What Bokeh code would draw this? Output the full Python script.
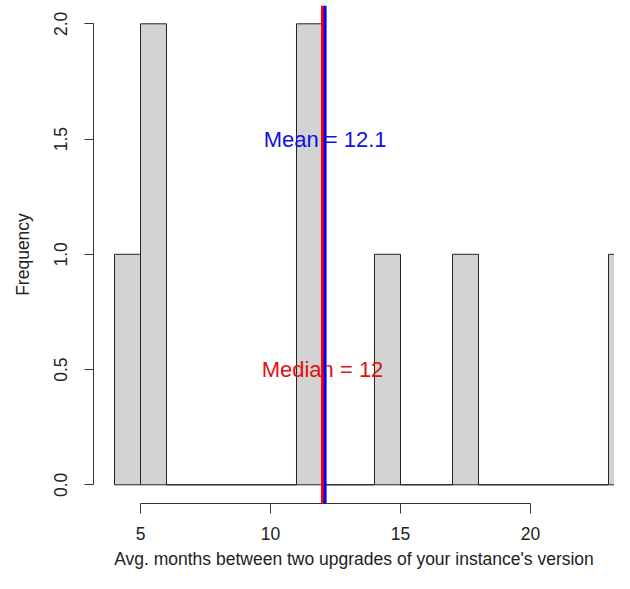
from bokeh.plotting import figure
from bokeh.models import Span, Range1d, FixedTicker
from bokeh.core.properties import value
from bokeh.embed import file_html
from bokeh.resources import INLINE

# ---- data ----
breaks = [4, 5, 6, 7, 8, 9, 10, 11, 12, 13, 14, 15, 16, 17, 18, 19, 20, 21, 22, 23, 24]
counts = [1, 2, 0, 0, 0, 0, 0, 2, 0, 0, 1, 0, 0, 1, 0, 0, 0, 0, 0, 1]
mean_val = 12.1
median_val = 12
mean_label = "Mean = 12.1"
median_label = "Median = 12"
mean_label_y = 1.5
median_label_y = 0.5
x_ticks = [5, 10, 15, 20]
y_ticks = [0, 0.5, 1.0, 1.5, 2.0]
x_title = "Avg. months between two upgrades of your instance's version"
y_title = "Frequency"

FONT = "Liberation Sans"
FS = "17.5px"

p = figure(width=614, height=573, output_backend="svg", toolbar_location=None,
           x_range=Range1d(3.1923, 23.2308), y_range=Range1d(-0.0811, 2.0794),
           min_border_left=93, min_border_right=0, min_border_top=5,
           min_border_bottom=70)
p.outline_line_color = None
p.xgrid.visible = False
p.ygrid.visible = False
p.background_fill_color = "white"
p.border_fill_color = "white"

p.quad(left=breaks[:-1], right=breaks[1:], bottom=0, top=counts,
       fill_color="#D3D3D3", line_color="#222222", line_width=1)

p.text(x=[mean_val], y=[mean_label_y], text=[mean_label], text_color="#1010e0",
       text_font=value(FONT), text_font_size="22px",
       text_align="center", text_baseline="middle")
p.text(x=[median_val], y=[median_label_y], text=[median_label], text_color="#e01010",
       text_font=value(FONT), text_font_size="22px",
       text_align="center", text_baseline="middle")

p.add_layout(Span(location=median_val, dimension="height", line_color="red", line_width=3))
p.add_layout(Span(location=mean_val, dimension="height", line_color="blue", line_width=3))

# x axis
xa = p.xaxis[0]
xa.ticker = FixedTicker(ticks=x_ticks)
xa.bounds = (x_ticks[0], x_ticks[-1])
xa.axis_label = x_title
xa.axis_line_color = "#333333"
xa.major_tick_line_color = "#333333"
xa.major_tick_out = 10
xa.major_tick_in = 0
xa.minor_tick_line_color = None
xa.major_label_standoff = 13
xa.major_label_text_font = FONT
xa.major_label_text_font_size = FS
xa.major_label_text_color = "#222222"
xa.axis_label_text_font = FONT
xa.axis_label_text_font_size = FS
xa.axis_label_text_font_style = "normal"
xa.axis_label_text_color = "#222222"
xa.axis_label_standoff = 6

# y axis
ya = p.yaxis[0]
ya.ticker = FixedTicker(ticks=y_ticks)
ya.bounds = (y_ticks[0], y_ticks[-1])
ya.major_label_overrides = {t: f"{t:.1f}" for t in y_ticks}
ya.axis_label = y_title
ya.axis_line_color = "#333333"
ya.major_tick_line_color = "#333333"
ya.major_tick_out = 9
ya.major_tick_in = 0
ya.minor_tick_line_color = None
ya.major_label_orientation = "vertical"
ya.major_label_standoff = 17
ya.major_label_text_font = FONT
ya.major_label_text_font_size = FS
ya.major_label_text_color = "#222222"
ya.axis_label_text_font = FONT
ya.axis_label_text_font_size = FS
ya.axis_label_text_font_style = "normal"
ya.axis_label_text_color = "#222222"
ya.axis_label_standoff = 19

open("out.html", "w").write(file_html(p, INLINE))
